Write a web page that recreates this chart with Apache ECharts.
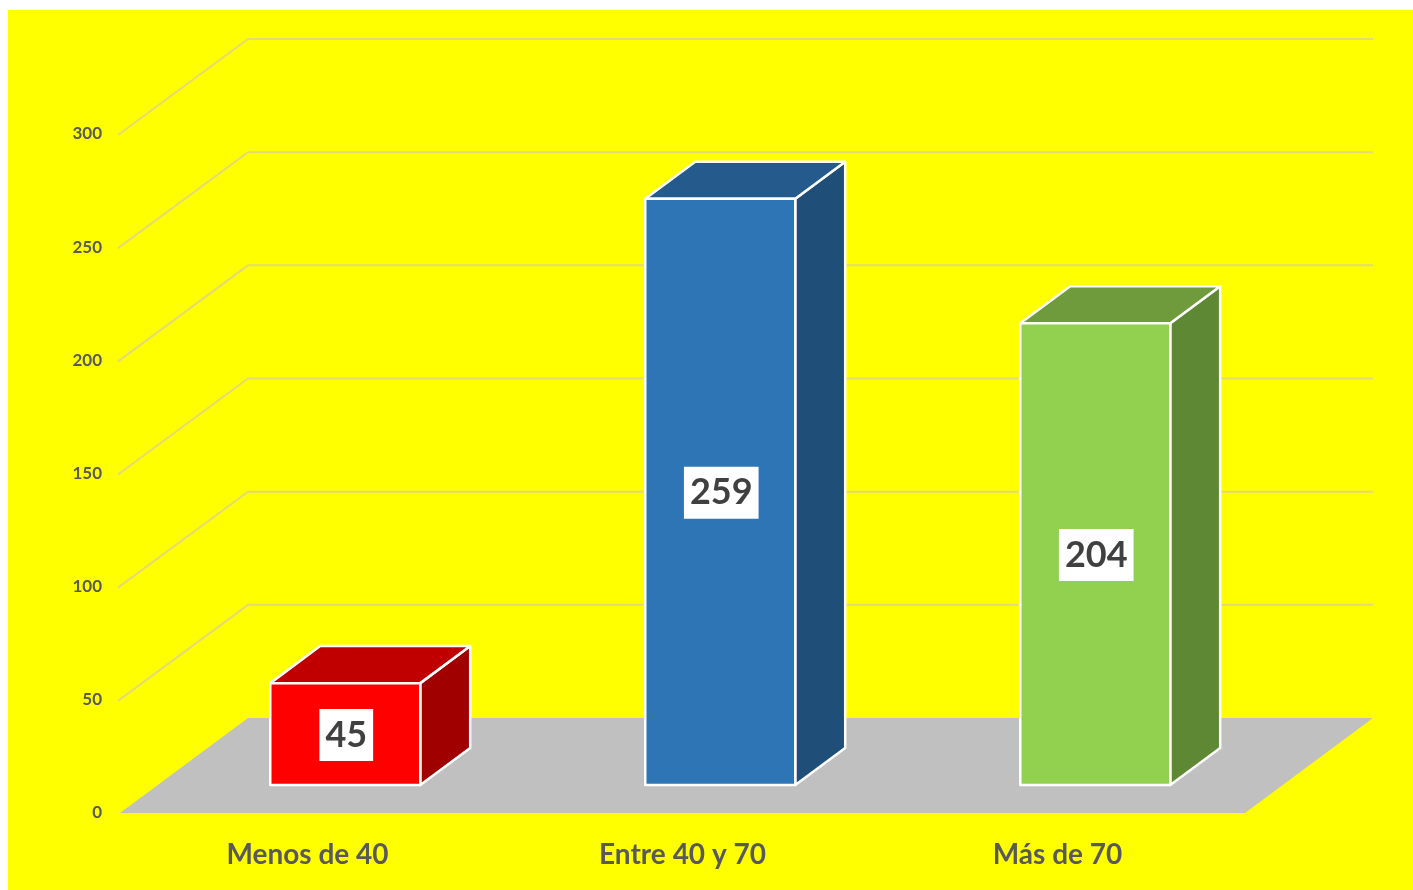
<!DOCTYPE html>
<html>
<head>
<meta charset="utf-8">
<script src="https://cdn.jsdelivr.net/npm/echarts@6/dist/echarts.min.js"></script>
<style>
  html, body { margin: 0; padding: 0; background: #ffffff; }
  #chart { position: absolute; left: 8px; top: 10px; width: 1405px; height: 880px; background: #FFFF00; }
</style>
</head>
<body>
<div id="chart"></div>
<script>
const categories = ['Menos de 40', 'Entre 40 y 70', 'Más de 70'];
const values = [45, 259, 204];
const yTicks = [0, 50, 100, 150, 200, 250, 300];
const frontColors = ['#FF0000', '#2E75B6', '#92D050'];
const topColors = ['#C00000', '#245A8C', '#6F9B3C'];
const sideColors = ['#A00000', '#1F4E79', '#5E8834'];

const DEPTH = [128, -95];     // perspective depth vector (px)
const F1 = 0.295, F2 = 0.685; // bar front/back depth fractions
const BAR_W = 0.4;            // bar width as fraction of band

const chart = echarts.init(document.getElementById('chart'));

function gridRender(params, api) {
  const v = api.value(1);
  const bw = api.size([1, 0])[0];
  const p0 = api.coord([0, v]);
  const pEnd = api.coord([categories.length - 1, v]);
  const xl = p0[0] - bw / 2, xr = pEnd[0] + bw / 2, y = p0[1];
  return {
    type: 'polyline',
    shape: { points: [[xl - 2, y + 1], [xl + DEPTH[0], y + DEPTH[1]], [xr + DEPTH[0], y + DEPTH[1]]] },
    style: { stroke: '#E3DA78', lineWidth: 2, fill: null }
  };
}

function floorRender(params, api) {
  const bw = api.size([1, 0])[0];
  const p0 = api.coord([0, 0]);
  const pEnd = api.coord([categories.length - 1, 0]);
  const xl = p0[0] - bw / 2, xr = pEnd[0] + bw / 2, y = p0[1];
  return {
    type: 'polygon',
    shape: { points: [[xl, y], [xr, y], [xr + DEPTH[0], y + DEPTH[1]], [xl + DEPTH[0], y + DEPTH[1]]] },
    style: { fill: '#C0C0C0' }
  };
}

function barRender(params, api) {
  const i = api.value(0), v = api.value(1);
  const base = api.coord([i, 0]);
  const top = api.coord([i, v]);
  const bw = api.size([1, 0])[0];
  const w = bw * BAR_W;
  const x0 = base[0] - w / 2 + DEPTH[0] * F1, x1 = x0 + w;
  const yb = base[1] + DEPTH[1] * F1, yt = top[1] + DEPTH[1] * F1;
  const dx = DEPTH[0] * (F2 - F1), dy = DEPTH[1] * (F2 - F1);
  const stroke = { stroke: '#FFFFFF', lineWidth: 2.5, lineJoin: 'round' };
  return {
    type: 'group',
    children: [
      { type: 'polygon', shape: { points: [[x1, yt], [x1, yb], [x1 + dx, yb + dy], [x1 + dx, yt + dy]] },
        style: Object.assign({ fill: sideColors[i] }, stroke) },
      { type: 'polygon', shape: { points: [[x0, yt], [x1, yt], [x1 + dx, yt + dy], [x0 + dx, yt + dy]] },
        style: Object.assign({ fill: topColors[i] }, stroke) },
      { type: 'rect', shape: { x: x0, y: yt, width: w, height: yb - yt },
        style: Object.assign({ fill: frontColors[i] }, stroke) },
      { type: 'text', x: (x0 + x1) / 2 + 1, y: (yt + yb) / 2 + 1,
        style: { text: String(v), fill: '#404040', font: 'bold 36px Lato', align: 'center', verticalAlign: 'middle',
                 backgroundColor: '#FFFFFF', padding: [9, 6, 7, 6] } }
    ]
  };
}

chart.setOption({
  animation: false,
  grid: { left: 112, right: 168, top: 124, bottom: 77 },
  xAxis: {
    type: 'category', data: categories,
    axisLine: { show: false }, axisTick: { show: false }, splitLine: { show: false },
    axisLabel: { margin: 28, fontSize: 28, fontWeight: 'bold', color: '#595959', fontFamily: 'Lato' }
  },
  yAxis: {
    type: 'value', min: 0, max: 300, interval: 50,
    axisLine: { show: false }, axisTick: { show: false }, splitLine: { show: false },
    axisLabel: { margin: 18, fontSize: 17, fontWeight: 'bold', color: '#595959', fontFamily: 'Lato',
                 padding: [10, 0, 0, 0],
                 formatter: function (v) { return yTicks.indexOf(v) >= 0 ? String(v) : ''; } }
  },
  series: [
    { type: 'custom', name: 'floor', renderItem: floorRender, data: [[0, 0]], z: 1, silent: true },
    { type: 'custom', name: 'grid', renderItem: gridRender, data: yTicks.slice(1).map(v => [0, v]), z: 2, silent: true },
    { type: 'custom', name: 'bars', renderItem: barRender, data: values.map((v, i) => [i, v]), z: 3 }
  ]
});
</script>
</body>
</html>
